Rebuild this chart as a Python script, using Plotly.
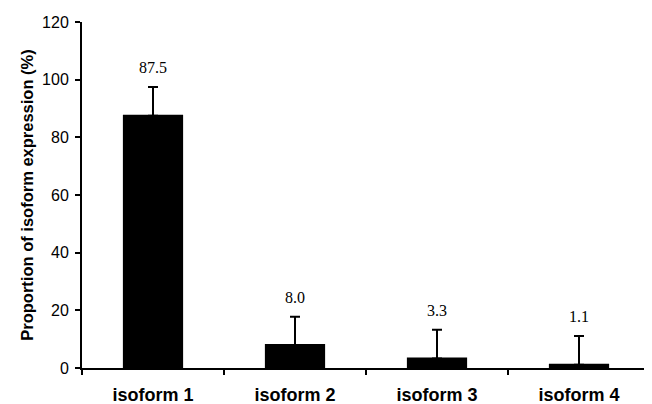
import plotly.graph_objects as go

categories = ["isoform 1", "isoform 2", "isoform 3", "isoform 4"]
values = [87.5, 8.0, 3.3, 1.1]
errors = [10.0, 9.8, 10.0, 10.0]
labels = ["87.5", "8.0", "3.3", "1.1"]
y_ticks = [0, 20, 40, 60, 80, 100, 120]

fig = go.Figure()
fig.add_trace(go.Bar(
    x=categories, y=values,
    marker=dict(color="black", line=dict(width=2, color="black")),
    width=0.41,
    error_y=dict(type="data", array=errors, symmetric=False, arrayminus=[0]*4,
                 color="black", thickness=2, width=5),
))

for c, v, e, t in zip(categories, values, errors, labels):
    fig.add_annotation(x=c, y=v + e, text=t, showarrow=False, yanchor="bottom",
                       yshift=9, font=dict(family="Liberation Serif", size=16, color="black"))

# page has an 8px body margin; figure sized to fit the 652x404 window
fig.update_layout(
    width=644, height=396,
    margin=dict(l=74, r=2, t=14, b=36),
    plot_bgcolor="white", paper_bgcolor="white",
    showlegend=False,
)
fig.update_xaxes(
    showline=True, linecolor="black", linewidth=2,
    ticks="outside", tickson="boundaries", ticklen=5, tickwidth=2, tickcolor="black",
    tickfont=dict(family="Liberation Sans", size=18, color="black", weight="bold"),
    ticklabelstandoff=9,
    showgrid=False, automargin=False,
)
fig.update_yaxes(
    range=[0, 120], tickvals=y_ticks,
    showline=True, linecolor="black", linewidth=2,
    ticks="outside", ticklen=5, tickwidth=2, tickcolor="black",
    tickfont=dict(family="Liberation Sans", size=16, color="black"),
    ticklabelstandoff=3,
    showgrid=False, zeroline=False, automargin=False,
    title=dict(text="Proportion of isoform expression (%)",
               font=dict(family="Liberation Sans", size=16.5, color="black", weight="bold"),
               standoff=4),
)

fig.write_html("out.html")
